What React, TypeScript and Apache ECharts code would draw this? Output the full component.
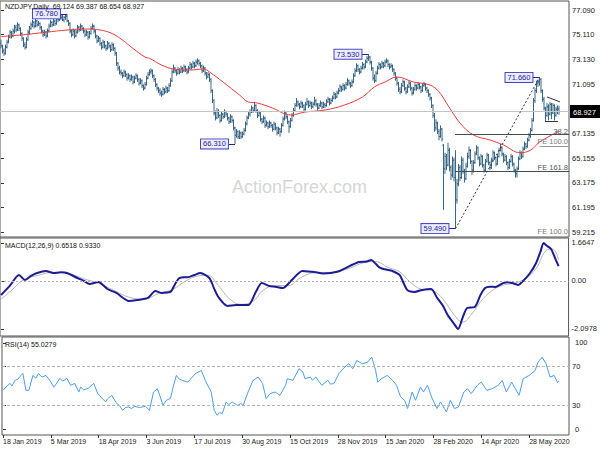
import React, { useEffect, useRef } from "react";
import * as echarts from "echarts";

// Daily OHLC bars [open, high, low, close], 18 Jan 2019 .. late Jun 2020
const priceBars: number[][] = [
[74.4,74.7,74.0,74.2],[74.2,74.3,73.6,73.8],[73.8,74.0,73.4,73.6],[73.6,74.3,73.5,74.1],[74.1,74.7,74.0,74.5],
[74.5,75.1,74.4,74.9],[74.9,75.5,74.8,75.3],[75.3,75.4,74.8,75.0],[75.0,75.6,74.9,75.4],[75.4,75.9,75.2,75.7],
[75.7,75.9,75.3,75.5],[75.5,76.1,75.4,75.9],[75.9,76.0,75.4,75.6],[75.6,75.7,75.0,75.2],[75.2,75.3,74.6,74.8],
[74.8,74.9,74.1,74.3],[74.3,74.5,73.9,74.1],[74.1,74.9,74.0,74.7],[74.7,75.5,74.6,75.3],[75.3,75.8,75.1,75.6],
[75.6,76.1,75.5,75.9],[75.9,76.3,75.7,76.1],[76.1,76.2,75.6,75.8],[75.8,76.4,75.7,76.2],[76.2,76.3,75.7,75.9],
[75.9,76.2,75.8,76.0],[76.0,76.1,75.5,75.7],[75.7,75.8,75.2,75.4],[75.4,75.5,74.9,75.1],[75.1,75.5,75.0,75.3],
[75.3,75.4,74.8,75.0],[75.0,75.6,74.9,75.4],[75.4,76.0,75.3,75.8],[75.8,76.3,75.7,76.1],[76.1,76.2,75.7,75.9],
[75.9,76.4,75.8,76.2],[76.2,76.3,75.8,76.0],[76.0,76.6,75.9,76.4],[76.4,76.5,76.1,76.3],[76.3,76.7,76.2,76.6],
[76.6,76.7,76.3,76.5],[76.5,76.7,76.2,76.3],[76.3,76.6,76.1,76.5],[76.5,76.7,76.3,76.6],[76.6,76.78,76.1,76.2],
[76.2,76.3,75.8,76.0],[76.0,76.1,75.2,75.4],[75.4,75.5,74.9,75.1],[75.1,75.6,75.0,75.4],[75.4,75.5,74.8,75.0],
[75.0,75.5,74.9,75.3],[75.3,75.9,75.2,75.7],[75.7,75.8,75.3,75.5],[75.5,76.0,75.4,75.8],[75.8,75.9,75.4,75.6],
[75.6,75.7,75.2,75.4],[75.4,75.5,74.9,75.1],[75.1,75.5,75.0,75.3],[75.3,75.4,74.7,74.9],[74.9,75.4,74.8,75.2],
[75.2,75.8,75.1,75.6],[75.6,76.0,75.5,75.8],[75.8,75.9,75.2,75.4],[75.4,75.5,74.8,75.0],[75.0,75.1,74.4,74.6],
[74.6,75.0,74.5,74.8],[74.8,74.9,74.2,74.4],[74.4,74.5,73.9,74.1],[74.1,74.7,74.0,74.5],[74.5,74.6,74.0,74.2],
[74.2,74.3,73.8,74.0],[74.0,74.6,73.9,74.4],[74.4,74.5,74.0,74.2],[74.2,74.3,73.7,73.9],[73.9,74.5,73.8,74.3],
[74.3,74.4,73.8,74.0],[74.0,74.1,73.4,73.6],[73.6,73.7,72.6,72.8],[72.8,72.9,72.2,72.4],[72.4,72.6,71.9,72.1],
[72.1,72.3,71.8,72.0],[72.0,72.1,71.6,71.8],[71.8,72.3,71.7,72.1],[72.1,72.2,71.7,71.9],[71.9,72.0,71.4,71.6],
[71.6,72.0,71.5,71.8],[71.8,71.9,71.3,71.5],[71.5,71.9,71.4,71.7],[71.7,71.8,71.1,71.3],[71.3,71.8,71.2,71.6],
[71.6,72.0,71.5,71.8],[71.8,71.9,71.3,71.5],[71.5,71.6,71.0,71.2],[71.2,71.6,71.1,71.4],[71.4,71.5,70.8,71.0],
[71.0,71.1,70.6,70.8],[70.8,71.3,70.7,71.1],[71.1,71.8,71.0,71.6],[71.6,72.1,71.5,71.9],[71.9,72.3,71.8,72.1],
[72.1,72.4,71.9,72.2],[72.2,72.3,71.6,71.8],[71.8,71.9,71.3,71.5],[71.5,71.6,70.9,71.1],[71.1,71.2,70.6,70.8],
[70.8,70.9,70.4,70.6],[70.6,70.8,70.2,70.4],[70.4,70.6,70.1,70.3],[70.3,70.9,70.2,70.7],[70.7,70.8,70.3,70.5],
[70.5,71.0,70.4,70.8],[70.8,70.9,70.4,70.6],[70.6,71.2,70.5,71.0],[71.0,71.6,70.9,71.4],[71.4,72.3,71.3,72.1],
[72.1,72.7,72.0,72.4],[72.4,72.5,72.0,72.2],[72.2,72.3,71.8,72.0],[72.0,72.5,71.9,72.3],[72.3,72.4,71.9,72.1],
[72.1,72.6,72.0,72.4],[72.4,72.5,72.0,72.2],[72.2,72.7,72.1,72.5],[72.5,72.6,72.1,72.3],[72.3,72.4,71.9,72.1],
[72.1,72.6,72.0,72.4],[72.4,72.9,72.3,72.7],[72.7,72.8,72.3,72.5],[72.5,73.0,72.4,72.8],[72.8,72.9,72.4,72.6],
[72.6,73.1,72.5,72.9],[72.9,73.2,72.7,73.0],[73.0,73.1,72.6,72.8],[72.8,72.9,72.4,72.6],[72.6,72.7,72.0,72.2],
[72.2,72.6,72.1,72.4],[72.4,72.5,71.8,72.0],[72.0,72.1,71.5,71.7],[71.7,72.1,71.6,71.9],[71.9,72.0,71.3,71.5],
[71.5,71.6,70.4,70.6],[70.6,70.7,69.6,69.8],[69.8,69.9,68.6,68.8],[68.8,69.0,68.2,68.4],[68.4,69.2,68.3,68.9],
[68.9,69.1,68.4,68.6],[68.6,68.7,68.0,68.2],[68.2,68.9,68.1,68.7],[68.7,68.8,68.3,68.5],[68.5,69.1,68.4,68.9],
[68.9,69.0,68.5,68.7],[68.7,68.8,68.2,68.4],[68.4,68.5,67.9,68.1],[68.1,68.7,68.0,68.5],[68.5,68.6,68.0,68.2],
[68.2,68.3,67.4,67.6],[67.6,67.7,66.31,67.0],[67.0,67.5,66.8,67.3],[67.3,67.4,66.7,66.9],[66.9,67.4,66.7,67.2],
[67.2,67.3,66.7,66.9],[66.9,67.3,66.8,67.1],[67.1,67.6,67.0,67.4],[67.4,68.1,67.3,67.9],[67.9,68.6,67.8,68.4],
[68.4,68.9,68.3,68.7],[68.7,69.1,68.5,68.9],[68.9,69.4,68.8,69.2],[69.2,69.3,68.8,69.0],[69.0,69.7,68.9,69.4],
[69.4,69.5,68.8,69.0],[69.0,69.1,68.4,68.6],[68.6,69.0,68.5,68.8],[68.8,68.9,68.1,68.3],[68.3,68.4,67.9,68.1],
[68.1,68.6,68.0,68.4],[68.4,68.5,67.6,67.8],[67.8,68.2,67.7,68.0],[68.0,68.1,67.5,67.7],[67.7,68.2,67.6,68.0],
[68.0,68.1,67.6,67.8],[67.8,67.9,67.3,67.5],[67.5,68.1,67.4,67.9],[67.9,68.0,67.4,67.6],[67.6,67.7,67.0,67.2],
[67.2,67.7,67.1,67.5],[67.5,67.6,66.9,67.3],[67.3,68.0,67.2,67.8],[67.8,68.5,67.7,68.3],[68.3,69.0,68.2,68.8],
[68.8,68.9,68.3,68.5],[68.5,68.6,67.9,68.1],[68.1,68.2,67.2,67.7],[67.7,68.4,67.6,68.2],[68.2,68.8,68.1,68.6],
[68.6,69.2,68.5,69.0],[69.0,69.6,68.9,69.4],[69.4,70.0,69.3,69.7],[69.7,69.8,69.3,69.5],[69.5,69.6,69.1,69.3],
[69.3,69.8,69.2,69.6],[69.6,69.7,69.2,69.4],[69.4,69.5,68.9,69.1],[69.1,69.7,69.0,69.5],[69.5,70.0,69.4,69.7],
[69.7,69.8,69.2,69.4],[69.4,69.8,69.3,69.6],[69.6,69.7,69.1,69.3],[69.3,69.7,69.2,69.5],[69.5,70.1,69.4,69.8],
[69.8,69.9,69.3,69.5],[69.5,69.6,69.0,69.2],[69.2,69.6,69.1,69.4],[69.4,69.8,69.3,69.6],[69.6,69.7,69.1,69.3],
[69.3,69.7,69.2,69.5],[69.5,69.6,69.2,69.4],[69.4,69.9,69.3,69.7],[69.7,70.1,69.6,69.9],[69.9,70.0,69.4,69.6],
[69.6,70.0,69.5,69.8],[69.8,70.2,69.7,70.0],[70.0,70.5,69.9,70.3],[70.3,70.4,69.9,70.1],[70.1,70.6,70.0,70.4],
[70.4,70.8,70.3,70.6],[70.6,71.1,70.5,70.9],[70.9,71.0,70.5,70.7],[70.7,71.2,70.6,71.0],[71.0,71.1,70.6,70.8],
[70.8,71.3,70.7,71.1],[71.1,71.6,71.0,71.4],[71.4,71.5,71.0,71.2],[71.2,71.3,70.8,71.0],[71.0,71.5,70.9,71.3],
[71.3,72.0,71.2,71.8],[71.8,72.4,71.7,72.2],[72.2,72.8,72.1,72.6],[72.6,72.7,72.1,72.3],[72.3,72.4,71.9,72.1],
[72.1,72.6,72.0,72.4],[72.4,72.9,72.3,72.7],[72.7,72.8,72.3,72.5],[72.5,73.1,72.4,72.9],[72.9,73.4,72.8,73.2],
[73.2,73.53,73.0,73.3],[73.3,73.4,72.7,72.9],[72.9,73.0,72.2,72.4],[72.4,72.5,71.4,71.6],[71.6,71.9,71.2,71.4],
[71.4,72.2,71.3,72.0],[72.0,72.6,71.9,72.4],[72.4,72.9,72.3,72.7],[72.7,72.8,72.3,72.5],[72.5,73.0,72.4,72.8],
[72.8,72.9,72.4,72.6],[72.6,73.1,72.5,72.9],[72.9,73.2,72.8,73.0],[73.0,73.1,72.5,72.7],[72.7,72.8,72.3,72.5],
[72.5,72.8,72.4,72.6],[72.6,72.7,72.1,72.3],[72.3,72.4,71.8,72.0],[72.0,72.1,71.4,71.6],[71.6,71.7,71.0,71.2],
[71.2,71.3,70.5,70.7],[70.7,70.9,70.3,70.5],[70.5,71.2,70.4,71.0],[71.0,71.5,70.9,71.3],[71.3,71.4,70.6,70.8],
[70.8,70.9,70.3,70.5],[70.5,71.1,70.4,70.9],[70.9,71.4,70.8,71.2],[71.2,71.3,70.6,70.8],[70.8,70.9,70.2,70.4],
[70.4,70.9,70.3,70.7],[70.7,71.2,70.6,71.0],[71.0,71.1,70.6,70.8],[70.8,71.3,70.7,71.1],[71.1,71.2,70.7,70.9],
[70.9,71.0,70.4,70.6],[70.6,71.2,70.5,71.0],[71.0,71.3,70.9,71.1],[71.1,71.2,70.6,70.8],[70.8,70.9,70.4,70.6],
[70.6,70.7,70.1,70.3],[70.3,70.4,69.8,70.0],[70.0,70.1,69.2,69.4],[69.4,69.5,68.4,68.6],[68.6,68.8,67.3,67.6],
[67.6,68.3,67.4,68.0],[68.0,68.1,67.1,67.3],[67.3,67.5,66.6,66.9],[66.9,67.8,66.8,67.5],[67.5,67.6,66.5,66.7],
[66.2,66.3,61.0,64.3],[64.3,65.6,63.9,65.3],[65.3,65.5,64.2,64.6],[64.6,66.4,64.5,65.8],[65.8,66.0,64.1,64.4],
[64.4,64.6,63.4,63.8],[63.8,65.3,63.6,65.0],[65.0,65.2,63.3,63.6],[63.6,65.8,59.49,61.8],[61.8,63.5,61.5,63.1],
[63.1,64.7,62.9,64.4],[64.4,64.6,63.3,63.6],[63.6,65.3,63.5,65.0],[65.0,65.2,63.9,64.1],[64.1,64.3,63.2,63.5],
[63.5,64.8,63.4,64.5],[64.5,65.6,64.4,65.3],[65.3,66.1,65.1,65.8],[65.8,65.9,64.7,64.9],[64.9,65.0,63.8,64.2],
[64.2,65.0,64.0,64.8],[64.8,65.7,64.7,65.5],[65.5,66.2,65.4,66.0],[66.0,66.1,65.0,65.2],[65.2,65.3,64.5,64.7],
[64.7,65.5,64.6,65.3],[65.3,65.4,64.4,64.6],[64.6,64.7,64.0,64.2],[64.2,65.1,64.1,64.9],[64.9,65.6,64.8,65.4],
[65.4,65.5,64.6,64.8],[64.8,64.9,64.2,64.4],[64.4,65.2,64.3,65.0],[65.0,65.8,64.9,65.6],[65.6,65.7,65.0,65.2],
[65.2,65.3,64.5,64.7],[64.7,65.5,64.6,65.3],[65.3,66.0,65.2,65.8],[65.8,66.3,65.7,66.0],[66.0,66.1,65.3,65.5],
[65.5,65.6,64.8,65.0],[65.0,65.5,64.9,65.3],[65.3,65.4,64.6,64.8],[64.8,64.9,64.2,64.4],[64.4,65.1,64.3,64.9],
[64.9,65.5,64.8,65.3],[65.3,65.4,64.5,64.7],[64.7,64.8,64.0,64.2],[64.2,64.3,63.6,63.9],[63.9,64.5,63.6,64.3],
[64.3,65.3,64.2,65.1],[65.1,65.8,65.0,65.6],[65.6,65.7,65.1,65.3],[65.3,66.1,65.2,65.9],[65.9,66.5,65.8,66.3],
[66.3,66.4,65.9,66.1],[66.1,66.8,66.0,66.6],[66.6,67.2,66.5,67.0],[67.0,67.6,66.8,67.4],[67.4,68.4,67.3,68.2],
[68.2,70.0,68.1,69.8],[69.8,70.8,69.6,70.6],[70.6,71.4,70.4,71.2],[71.2,71.5,70.9,71.3],[71.3,71.66,71.0,71.5],
[71.5,71.6,70.4,70.6],[70.6,70.7,69.7,69.9],[69.9,70.1,69.0,69.2],[69.2,69.3,68.15,68.6],[68.6,69.6,68.5,69.3],
[69.3,69.5,68.2,68.7],[68.7,69.7,68.6,69.5],[69.5,69.6,68.3,68.8],[68.8,69.6,68.7,69.4],[69.4,69.5,68.2,68.6],
[68.6,69.3,68.5,69.1],[69.1,69.4,68.7,69.12],[69.124,69.387,68.654,68.927]
];

// Moving average (red), read as [bar, value]
const maPoints: number[][] = [
[0,74.95],[15,75.1],[30,75.3],[44,75.48],[57,75.56],[66,75.48],[74,75.2],[81,74.67],[88,74.0],[96,73.3],
[99,73.2],[107,72.66],[115,72.34],[126,72.26],[135,72.34],[139,72.1],[148,71.29],[159,70.25],[165,69.68],
[171,69.6],[181,69.2],[193,68.64],[203,68.88],[216,69.04],[229,69.44],[241,70.09],[249,70.9],[256,71.29],
[264,71.7],[275,71.29],[286,71.05],[292,70.5],[297,69.6],[306,67.99],[315,67.03],[326,66.62],[335,66.22],
[346,65.6],[353,65.8],[359,66.46],[366,66.95],[372,67.35]
];

// MACD main line and signal line, [bar, value]
const macdPoints: number[][] = [
[0,-0.61],[6,-0.2],[12,0.26],[16,0.04],[20,0.22],[24,0.35],[30,0.44],[35,0.35],[40,0.38],[44,0.35],
[51,0.13],[55,0.02],[59,-0.13],[65,-0.04],[71,-0.35],[77,-0.52],[81,-0.72],[85,-0.87],[91,-0.83],[98,-0.74],
[103,-0.44],[107,-0.52],[113,-0.48],[116,-0.15],[119,0.13],[125,0.17],[129,0.26],[133,0.35],[139,0.13],
[142,-0.3],[145,-0.7],[151,-1.09],[157,-1.05],[165,-1.05],[170,-0.48],[174,-0.09],[179,-0.22],[183,-0.25],
[188,-0.31],[194,0.04],[201,0.44],[205,0.42],[209,0.39],[215,0.33],[220,0.35],[226,0.44],[234,0.7],
[239,0.83],[244,0.85],[247,0.92],[250,0.75],[253,0.57],[257,0.5],[261,0.44],[266,0.26],[271,-0.39],
[276,-0.48],[281,-0.39],[287,-0.35],[291,-0.74],[295,-1.1],[298,-1.49],[302,-1.85],[305,-2.0978],[308,-1.6],
[311,-1.18],[316,-1.14],[320,-0.6],[323,-0.31],[326,-0.25],[330,-0.26],[335,-0.09],[338,-0.05],[341,-0.09],
[345,-0.17],[349,0.05],[353,0.35],[357,0.79],[360,1.3],[362,1.6647],[364,1.55],[367,1.4],[370,0.95],[372,0.65]
];
const signalPoints: number[][] = [
[0,-0.8],[8,-0.35],[15,0.05],[25,0.25],[35,0.38],[45,0.33],[55,0.1],[65,-0.1],[75,-0.4],[85,-0.7],
[95,-0.8],[105,-0.55],[115,-0.35],[122,-0.05],[130,0.2],[138,0.25],[145,-0.2],[152,-0.75],[160,-1.02],
[168,-0.9],[175,-0.4],[183,-0.2],[192,-0.2],[200,0.15],[210,0.37],[222,0.38],[232,0.55],[242,0.8],
[250,0.85],[258,0.6],[266,0.4],[273,-0.05],[280,-0.35],[288,-0.42],[295,-0.8],[302,-1.45],[308,-1.8],
[314,-1.45],[320,-0.9],[327,-0.45],[334,-0.2],[342,-0.1],[350,0.1],[357,0.55],[364,1.35],[368,1.4],[372,0.933]
];

// RSI(14), [bar, value]
const rsiPoints: number[][] = [
[0,45.6],[2,49],[4.7,52.7],[6,50],[8,55.7],[10,57],[12,60.8],[13.3,62.9],[15.3,45.6],[17.3,45.6],[20,60.8],
[22,58],[23.7,62.9],[26,59.1],[28.7,60.8],[31.3,55.7],[34,48.9],[36,53],[38,57.8],[40,55],[42.7,57.8],
[45.3,50.7],[48,52.7],[50.7,43.9],[52,48.9],[54,46],[57,47.6],[60.7,52.7],[63.3,42.5],[66,38],[68.7,33.7],
[70,37],[72.7,40.5],[76,32.3],[78,30],[80,25.2],[82,28],[84,28.6],[86,27],[88,29.3],[91.3,28.0],
[95.3,29.3],[98,25.2],[100.7,43.9],[103.3,47.3],[105,40],[107,30.3],[109.3,35.4],[112,37.4],[114,50],
[116,60.8],[118,57],[120,55.7],[123.7,54.0],[126,58],[128.7,62.6],[132.7,65.9],[135.3,55.7],[139.3,43.9],
[141.3,25.2],[143.3,20.1],[145,23],[146.7,21.9],[149.3,33.7],[151,31],[153.3,33.7],[157,30.3],[159,32],
[160.7,30.3],[164,44],[167.3,55.7],[170.7,59.1],[173.7,52.4],[176,37.1],[178.7,42.2],[182,43.9],
[185.3,40.5],[189,50.7],[190.3,57.5],[194,55.7],[198,67.6],[200.7,64.2],[202,57.5],[205.7,59.1],
[207,56],[209.3,59.1],[213.3,50.7],[217.3,55.7],[219,52],[221.3,52.4],[224.7,62.6],[228.7,69.3],
[231.3,72.7],[234,67.6],[236.7,76.1],[240.3,72.7],[244,74.4],[246.7,79.5],[249.3,65.9],[250.7,54.0],
[253.3,57.5],[257,60.8],[260.7,55.7],[263.3,50.7],[266,38.8],[268.7,35.4],[270.7,27.0],[273.7,43.9],
[276,35.4],[279.3,48.9],[281.3,43.9],[284,50.7],[286.7,38.8],[290.3,27.0],[292.7,33.7],[295.3,27.0],
[296.7,23.5],[299.3,35.4],[302,27.0],[304.7,28.6],[308.3,43.9],[310.7,47.3],[313.3,42.2],[317.3,50.7],
[320,54.0],[323.7,45.6],[327.3,47.3],[331.3,50.7],[334,55.7],[336.7,43.9],[340.3,54.0],[344,43.9],
[345.3,40.5],[348,57.5],[352,60.8],[356,65.9],[358,74.4],[360.7,79.5],[363.3,72.7],[366,59.1],
[368.7,60.8],[371,53.5],[372,55.03]
];

const dateLabels = ["18 Jan 2019","5 Mar 2019","18 Apr 2019","3 Jun 2019","17 Jul 2019","30 Aug 2019",
  "15 Oct 2019","28 Nov 2019","15 Jan 2020","28 Feb 2020","14 Apr 2020","28 May 2020"];
const dateLabelBars = [0,32,64,96,128,160,192,224,256,288,320,352];

const priceTickValues = [59.215,61.195,63.175,65.155,67.135,71.095,73.13,75.11,77.09];
const macdTickValues = [1.6647, 0, -2.0978];
const rsiTickValues = [6, 30, 70, 94];
const rsiInnerLabels = [30, 70];
const rsiEdgeLabels = ["100", "0"];

const lastPrice = 68.927;
const swingLabels = [
  { bar: 44, price: 76.78, text: "76.780" },
  { bar: 156, price: 66.31, text: "66.310" },
  { bar: 245, price: 73.53, text: "73.530" },
  { bar: 303, price: 59.49, text: "59.490" },
  { bar: 359, price: 71.66, text: "71.660" },
];
const fibLevels = { r382: 67.1, fe100: 66.14, fe1618: 64.13 };

const FONT = '"Liberation Sans", Arial, sans-serif';
const BAR_COLOR = "#3a6786";
const X_MIN = -0.67;
const X_MAX = 378.67;

export default function App() {
  const ref = useRef<HTMLDivElement>(null);
  useEffect(() => {
    const chart = echarts.init(ref.current!, undefined, { renderer: "svg" });
    const gridBase = { left: 0, right: 31, show: true, borderColor: "#555555", borderWidth: 1 };
    const noMark = { symbol: ["none", "none"], silent: true, label: { show: false }, emphasis: { disabled: true } };
    const xAxes = [0, 1, 2].map((g) => ({
      type: "value", gridIndex: g, min: X_MIN, max: X_MAX,
      splitLine: { show: false },
      axisLine: { show: false },
      axisTick: g === 2 ? { show: true, customValues: dateLabelBars, length: 3, lineStyle: { color: "#333" } } : { show: false },
      axisLabel: g === 2 ? {
        show: true, customValues: dateLabelBars, align: "left", margin: 3, fontSize: 7, color: "#222",
        fontFamily: FONT, showMinLabel: true, showMaxLabel: true,
        formatter: (v: number) => dateLabels[dateLabelBars.indexOf(Math.round(v))] ?? "",
      } : { show: false },
    }));
    const yLabel = { fontSize: 7.5, color: "#222", fontFamily: FONT, margin: 3, showMinLabel: true, showMaxLabel: true };
    const option = {
      animation: false,
      backgroundColor: "#ffffff",
      textStyle: { fontFamily: FONT },
      grid: [
        { ...gridBase, top: 1, height: 236 },
        { ...gridBase, top: 238, height: 98 },
        { ...gridBase, top: 337, height: 98 },
      ],
      xAxis: xAxes,
      yAxis: [
        {
          type: "value", gridIndex: 0, position: "right", min: 58.814, max: 77.815,
          splitLine: { show: false }, axisLine: { show: false },
          axisTick: { show: true, customValues: priceTickValues, length: 3, lineStyle: { color: "#333" } },
          axisLabel: { ...yLabel, customValues: priceTickValues, formatter: (v: number) => v.toFixed(3) },
        },
        {
          type: "value", gridIndex: 1, position: "right", min: -2.406, max: 1.881,
          splitLine: { show: false }, axisLine: { show: false },
          axisTick: { show: true, customValues: macdTickValues, length: 3, lineStyle: { color: "#333" } },
          axisLabel: { ...yLabel, customValues: macdTickValues, formatter: (v: number) => (v === 0 ? "0.00" : v.toFixed(4)) },
        },
        {
          type: "value", gridIndex: 2, position: "right", min: 0, max: 100,
          splitLine: { show: false }, axisLine: { show: false },
          axisTick: { show: true, customValues: rsiTickValues, length: 3, lineStyle: { color: "#333" } },
          axisLabel: { ...yLabel, customValues: rsiInnerLabels, formatter: (v: number) => String(Math.round(v)) },
        },
      ],
      series: [
        {
          type: "line", name: "lastLine", xAxisIndex: 0, yAxisIndex: 0, data: [], z: 1,
          markLine: { ...noMark, lineStyle: { color: "#c4c4c4", width: 1, type: "solid" }, data: [{ yAxis: lastPrice }] },
        },
        {
          type: "custom", name: "NZDJPY", xAxisIndex: 0, yAxisIndex: 0, z: 3,
          encode: { x: 0, y: [1, 2, 3, 4] },
          data: priceBars.map((b, i) => [i, b[0], b[1], b[2], b[3]]),
          renderItem: (params: any, api: any) => {
            const i = api.value(0);
            const top = api.coord([i, api.value(2)]);
            const bot = api.coord([i, api.value(3)]);
            const po = api.coord([i, api.value(1)]);
            const pc = api.coord([i, api.value(4)]);
            const style = { stroke: BAR_COLOR, lineWidth: 1 };
            return {
              type: "group",
              children: [
                { type: "line", shape: { x1: top[0], y1: top[1], x2: bot[0], y2: bot[1] }, style },
                { type: "line", shape: { x1: po[0] - 1.2, y1: po[1], x2: po[0], y2: po[1] }, style },
                { type: "line", shape: { x1: pc[0], y1: pc[1], x2: pc[0] + 1.2, y2: pc[1] }, style },
              ],
            };
          },
        },
        {
          type: "line", name: "MA", xAxisIndex: 0, yAxisIndex: 0, z: 4,
          data: maPoints, showSymbol: false, smooth: 0.4, silent: true,
          lineStyle: { color: "#f03a3a", width: 1 },
        },
        {
          type: "line", name: "annotations", xAxisIndex: 0, yAxisIndex: 0, data: [], z: 5,
          markLine: {
            ...noMark,
            data: [
              [{ coord: [302.7, fibLevels.r382], lineStyle: { color: "#3f4f4f", width: 1, type: "solid" } }, { coord: [X_MAX, fibLevels.r382] }],
              [{ coord: [302.7, fibLevels.fe1618], lineStyle: { color: "#3f4f4f", width: 1, type: "solid" } }, { coord: [X_MAX, fibLevels.fe1618] }],
              [{ coord: [359, fibLevels.fe100], lineStyle: { color: "#9a9a9a", width: 1, type: "solid" } }, { coord: [X_MAX, fibLevels.fe100] }],
              [{ coord: [303, 59.49], lineStyle: { color: "#333333", width: 1, type: [2, 2] } }, { coord: [359, 71.66] }],
              [{ coord: [364, 70.09], lineStyle: { color: "#333333", width: 1, type: "solid" } }, { coord: [372.7, 69.69] }],
              [{ coord: [362.7, 68.15], lineStyle: { color: "#333333", width: 1, type: "solid" } }, { coord: [371.3, 68.15] }],
              ...swingLabels.map((s) => [
                { coord: [s.bar - 4.7, s.price], lineStyle: { color: "#24249a", width: 1, type: "solid" } },
                { coord: [s.bar, s.price] },
              ]),
            ],
          },
          markPoint: {
            silent: true, symbol: "rect", symbolSize: 0.1,
            itemStyle: { color: "transparent" },
            label: {
              show: true, position: "left", distance: 7,
              formatter: (p: any) => p.name,
              backgroundColor: "#ececff", borderColor: "#4747c4", borderWidth: 1,
              padding: [1, 2, 0, 2], color: "#1f1f9c", fontSize: 7.5, fontFamily: FONT, lineHeight: 8,
            },
            data: swingLabels.map((s) => ({ name: s.text, coord: [s.bar, s.price] })),
          },
        },
        {
          type: "line", name: "Signal", xAxisIndex: 1, yAxisIndex: 1, z: 3,
          data: signalPoints, showSymbol: false, smooth: 0.4, silent: true,
          lineStyle: { color: "#b5b5b5", width: 1 },
          markLine: { ...noMark, lineStyle: { color: "#b0b0b0", width: 1, type: [2, 2] }, data: [{ yAxis: 0 }] },
        },
        {
          type: "line", name: "MACD", xAxisIndex: 1, yAxisIndex: 1, z: 4,
          data: macdPoints, showSymbol: false, smooth: 0.25, silent: true,
          lineStyle: { color: "#1c1c94", width: 2 },
        },
        {
          type: "line", name: "RSI", xAxisIndex: 2, yAxisIndex: 2, z: 4,
          data: rsiPoints, showSymbol: false, silent: true,
          lineStyle: { color: "#4a9ef2", width: 1 },
          markLine: { ...noMark, lineStyle: { color: "#b4b4b4", width: 1, type: [3, 2] }, data: [{ yAxis: 70 }, { yAxis: 30 }] },
        },
      ],
      graphic: [
        { type: "text", left: 232, top: 178, z: 0, style: { text: "ActionForex.com", fontSize: 18, fontFamily: FONT, fill: "#d6d6d6" } },
        { type: "text", left: 5, top: 3, z: 10, style: { text: "NZDJPY,Daily  69.124 69.387 68.654 68.927", fontSize: 7, fontFamily: FONT, fill: "#111" } },
        { type: "text", left: 5, top: 242, z: 10, style: { text: "MACD(12,26,9) 0.6518 0.9330", fontSize: 7, fontFamily: FONT, fill: "#111" } },
        { type: "text", left: 5, top: 341, z: 10, style: { text: "RSI(14) 55.0279", fontSize: 7, fontFamily: FONT, fill: "#111" } },
        { type: "text", right: 32, top: 127, z: 10, style: { text: "38.2", fontSize: 7.5, fontFamily: FONT, fill: "#555" } },
        { type: "text", right: 32, top: 137, z: 10, style: { text: "FE 100.0", fontSize: 7.5, fontFamily: FONT, fill: "#7a7a7a" } },
        { type: "text", right: 32, top: 163, z: 10, style: { text: "FE 161.8", fontSize: 7.5, fontFamily: FONT, fill: "#555" } },
        { type: "text", right: 32, top: 227, z: 10, style: { text: "FE 100.0", fontSize: 7.5, fontFamily: FONT, fill: "#7a7a7a" } },
        { type: "text", left: 575, top: 338, z: 10, style: { text: rsiEdgeLabels[0], fontSize: 7.5, fontFamily: FONT, fill: "#222" } },
        { type: "text", left: 575, top: 425, z: 10, style: { text: rsiEdgeLabels[1], fontSize: 7.5, fontFamily: FONT, fill: "#222" } },
        {
          type: "group", left: 570, top: 105, z: 20,
          children: [
            { type: "rect", shape: { x: 0, y: 0, width: 30, height: 13 }, style: { fill: "#000" } },
            { type: "text", x: 3, y: 3, style: { text: "68.927", fontSize: 7.5, fontFamily: FONT, fill: "#fff" } },
          ],
        },
      ],
    };
    chart.setOption(option as any);
    return () => chart.dispose();
  }, []);
  return (
    <div
      ref={ref}
      style={{ position: "fixed", left: 0, top: 0, width: 600, height: 450, background: "#fff" }}
    />
  );
}
